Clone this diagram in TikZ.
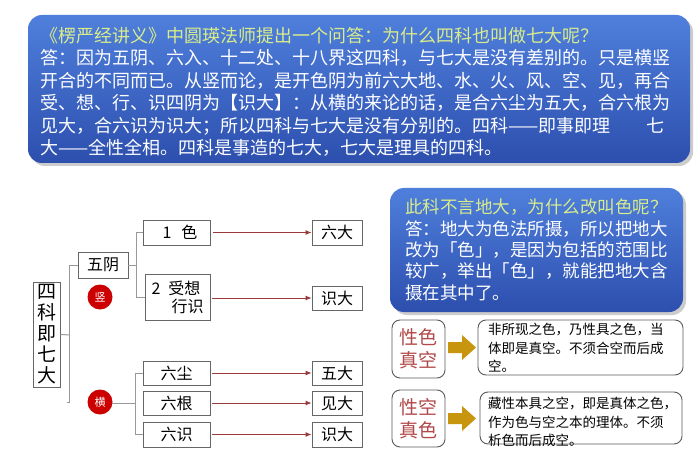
\documentclass[tikz,border=0pt]{standalone}
\usepackage{fontspec}
\setmainfont{Noto Sans CJK SC}
\usetikzlibrary{arrows.meta}
\definecolor{bluetop}{HTML}{4F7FDC}
\definecolor{bluebot}{HTML}{2D4FAE}
\definecolor{titlec}{HTML}{D9EC8C}
\definecolor{arr}{HTML}{9A3A3A}
\definecolor{gold}{HTML}{C8960E}
\definecolor{redt}{HTML}{B24848}
\tikzset{
  bluebox/.style={rounded corners=14pt,top color=bluetop,bottom color=bluebot,draw=none},
  tbox/.style={draw=gray!80!black,line width=0.9pt,fill=white,inner sep=0pt,font=\fontsize{16}{18}\selectfont},
  conn/.style={draw=gray!80,line width=1pt},
  arrline/.style={draw=arr,line width=0.9pt,-{Latex[length=6pt,width=5pt]}},
  redc/.style={circle,fill=red!80!black,minimum size=25pt,inner sep=0pt,text=white,font=\fontsize{11}{11}\selectfont},
  rbox/.style={draw=gray!70!black,line width=0.9pt,rounded corners=8pt,fill=white},
}
\begin{document}
\begin{tikzpicture}[x=1pt,y=-1pt]
\useasboundingbox[fill=white] (0,0) rectangle (700,470);
% top box
\fill[gray!40,rounded corners=14pt] (31,18) rectangle (693,166);
\path[bluebox] (28,15) rectangle (690,163);
\node[anchor=north west,inner sep=0pt,align=left,text=white,font=\fontsize{18}{22.4}\selectfont] (toptext) at (40,27)
{\textcolor{titlec}{《楞严经讲义》中圆瑛法师提出一个问答：为什么四科也叫做七大呢？}\\
答：因为五阴、六入、十二处、十八界这四科，与七大是没有差别的。只是横竖\\
开合的不同而已。从竖而论，是开色阴为前六大地、水、火、风、空、见，再合\\
受、想、行、识四阴为【识大】：从横的来论的话，是合六尘为五大，合六根为\\
见大，合六识为识大；所以四科与七大是没有分别的。四科——即事即理\quad\quad 七\\
大——全性全相。四科是事造的七大，七大是理具的四科。};
% right box
\fill[gray!40,rounded corners=14pt] (393,191) rectangle (686,315);
\path[bluebox] (390,188) rectangle (683,312);
\node[anchor=north west,inner sep=0pt,align=left,text=white,font=\fontsize{17.5}{21.3}\selectfont] (rtext) at (405,199)
{\textcolor{titlec}{此科不言地大，为什么改叫色呢？}\\
答：地大为色法所摄，所以把地大\\
改为「色」，是因为包括的范围比\\
较广，举出「色」，就能把地大含\\
摄在其中了。};
% lower right boxes
\node[rbox,minimum width=53pt,minimum height=58pt,text=redt,align=center,font=\fontsize{19}{23}\selectfont] (xs1) at (418.5,349) {性色\\真空};
\node[rbox,minimum width=205pt,minimum height=55pt] (d1) at (580.5,347.5) {};
\node[anchor=north west,inner sep=0pt,align=left,font=\fontsize{13.5}{18.5}\selectfont] (d1t) at (488,323)
{非所现之色，乃性具之色，当\\体即是真空。不须合空而后成\\空。};
\node[rbox,minimum width=53pt,minimum height=57pt,text=redt,align=center,font=\fontsize{19}{23}\selectfont] (xs2) at (418.5,418.5) {性空\\真色};
\node[rbox,minimum width=202pt,minimum height=52pt] (d2) at (581,418) {};
\node[anchor=north west,inner sep=0pt,align=left,font=\fontsize{13.5}{18.5}\selectfont] (d2t) at (488,397)
{藏性本具之空，即是真体之色，\\作为色与空之本的理体。不须\\析色而后成空。};
\fill[gold] (448,342) -- (462,342) -- (462,335) -- (476,347.5) -- (462,360) -- (462,353) -- (448,353) -- cycle;
\fill[gold] (448,413) -- (462,413) -- (462,406) -- (476,418.5) -- (462,431) -- (462,424) -- (448,424) -- cycle;
% tree
\node[tbox,minimum width=27pt,minimum height=105pt,align=center,font=\fontsize{19}{21}\selectfont] (root) at (46.5,334.5) {四\\科\\即\\七\\大};
\node[tbox,minimum width=50pt,minimum height=26pt] (wy) at (103,265) {五阴};
\node[redc] (shu) at (100,297) {竖};
\node[redc] (heng) at (100,402) {横};
\node[tbox,minimum width=67pt,minimum height=25pt,anchor=west] (se) at (143,232.5) {\hspace{6pt}1\hspace{10pt}色\hfill};
\node[tbox,minimum width=65pt,minimum height=46pt,align=left] (sx) at (177.5,297) {2\hspace{8pt}受想\\\hspace{20pt}行识};
\node[tbox,minimum width=67pt,minimum height=24pt] (lc) at (176.5,373) {六尘\hspace{18pt}};
\node[tbox,minimum width=67pt,minimum height=24pt] (lg) at (176.5,403) {六根\hspace{18pt}};
\node[tbox,minimum width=67pt,minimum height=25pt] (ls) at (176.5,434.5) {六识\hspace{18pt}};
\node[tbox,minimum width=50pt,minimum height=25pt] (r1) at (337,232.5) {六大};
\node[tbox,minimum width=50pt,minimum height=24pt] (r2) at (337,298) {识大};
\node[tbox,minimum width=50pt,minimum height=24pt] (r3) at (337,373) {五大};
\node[tbox,minimum width=50pt,minimum height=24pt] (r4) at (337,403) {见大};
\node[tbox,minimum width=50pt,minimum height=25pt] (r5) at (337,434.5) {识大};
\coordinate (b1) at (70,335);
\draw[conn] (root.east) -- (b1);
\draw[conn] (wy.west) -- ++(-8,0) -- ([xshift=-8pt]wy.west |- heng.west) -- ([xshift=-20pt]heng.west);
\coordinate (b2) at (136,265);
\draw[conn] (wy.east) -- (b2);
\draw[conn] (se.west) -- ++(-7,0) |- (sx.west);
\coordinate (b3) at (136,403);
\draw[conn] (heng.east) ++(0,0) (112,403) -- (b3);
\draw[conn] (lc.west) -- ++(-7,0) |- (ls.west);
\draw[arrline] (se.east) ++(2,0) -- (r1.west);
\draw[arrline] ([xshift=2pt]sx.east |- r2.west) -- (r2.west);
\draw[arrline] ([xshift=2pt]lc.east) -- (r3.west);
\draw[arrline] ([xshift=2pt]lg.east) -- (r4.west);
\draw[arrline] ([xshift=2pt]ls.east) -- (r5.west);
\end{tikzpicture}
\end{document}
